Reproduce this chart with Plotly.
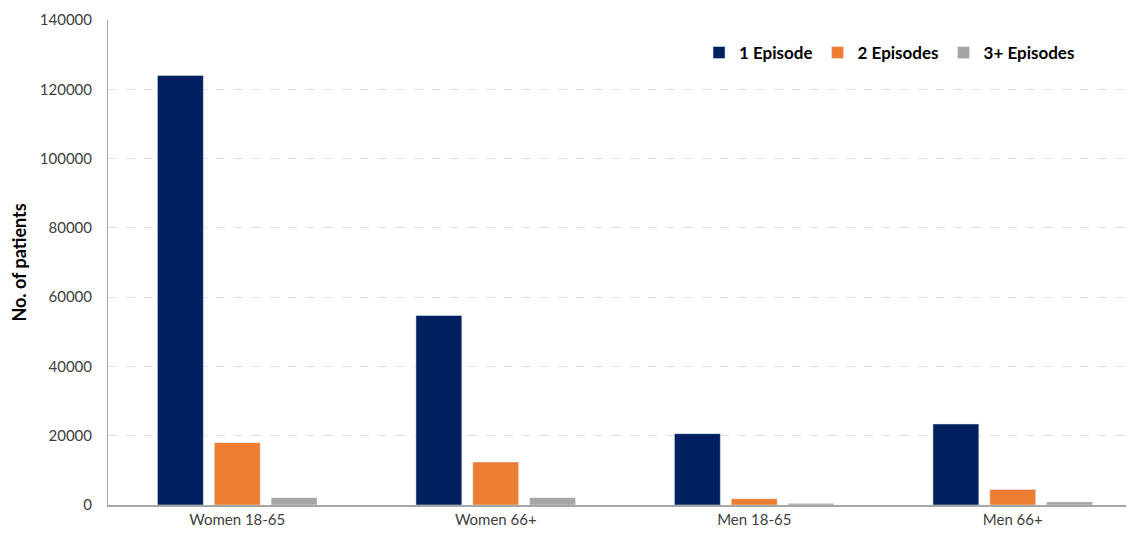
import plotly.graph_objects as go

categories = ["Women 18-65", "Women 66+", "Men 18-65", "Men 66+"]
one_episode = [124000, 54700, 20600, 23400]
two_episodes = [18000, 12400, 1800, 4500]
three_plus = [2100, 2100, 400, 900]
y_ticks = [0, 20000, 40000, 60000, 80000, 100000, 120000, 140000]

FONT = "Lato"
fig = go.Figure()
fig.add_bar(x=categories, y=one_episode, name="1 Episode", marker_color="#002060")
fig.add_bar(x=categories, y=two_episodes, name="2 Episodes", marker_color="#ED7D31")
fig.add_bar(x=categories, y=three_plus, name="3+ Episodes", marker_color="#A5A5A5")

fig.update_layout(
    width=1134, height=534,
    margin=dict(l=100, r=0, t=12, b=37),
    paper_bgcolor="white", plot_bgcolor="white",
    barmode="group", bargap=0.34, bargroupgap=0.193,
    font=dict(family=FONT, size=15, color="#404040"),
    legend=dict(orientation="h", x=0.5716, y=0.932, xanchor="left", yanchor="middle",
                font=dict(family=FONT, size=17, color="#000000", weight="bold"),
                itemwidth=30, bgcolor="rgba(0,0,0,0)", traceorder="normal"),
    showlegend=True,
)
fig.update_xaxes(range=[-0.5, 3.5], showline=True, linecolor="#A6A6A6", linewidth=1.5,
                 ticks="", showgrid=False, tickfont=dict(size=15, color="#404040"))
fig.update_yaxes(range=[0, 140000], tickvals=y_ticks, ticktext=[str(v) for v in y_ticks],
                 showline=True, linecolor="#A6A6A6", linewidth=1,
                 showgrid=True, gridcolor="#E0E0E0", griddash="dash", gridwidth=1,
                 zeroline=False, ticks="", ticklabelstandoff=12,
                 tickfont=dict(size=15, color="#404040"),
                 title=dict(text="No. of patients", standoff=12,
                            font=dict(family=FONT, size=18, color="#000000", weight="bold")))

fig.write_html("out.html")
